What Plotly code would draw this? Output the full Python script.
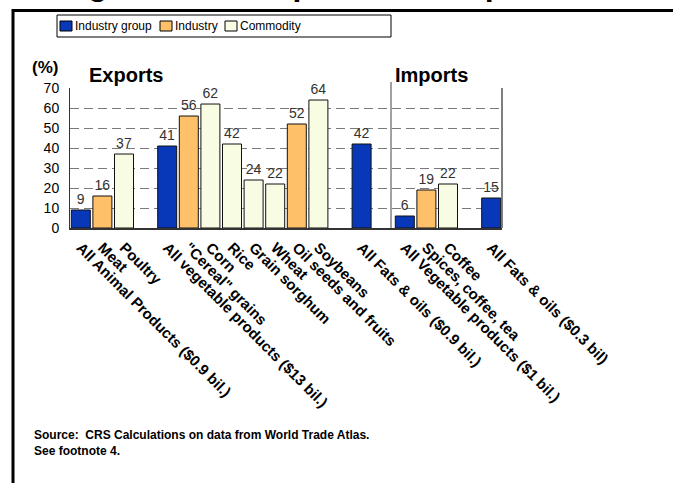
import plotly.graph_objects as go

# ---- data ----
categories = [
    "All Animal Products ($0.9 bil.)", "Meat", "Poultry", "",
    "All vegetable products ($13 bil.)", "\"Cereal\" grains", "Corn", "Rice",
    "Grain sorghum", "Wheat", "Oil seeds and fruits", "Soybeans", "",
    "All Fats & oils ($0.9 bil.)", "",
    "All Vegetable products ($1 bil.)", "Spices, coffee, tea", "Coffee", "",
    "All Fats & oils ($0.3 bil)",
]
group_cats = ["All Animal Products ($0.9 bil.)", "All vegetable products ($13 bil.)",
              "All Fats & oils ($0.9 bil.)", "All Vegetable products ($1 bil.)",
              "All Fats & oils ($0.3 bil)"]
group_vals = [9, 41, 42, 6, 15]
industry_cats = ["Meat", "\"Cereal\" grains", "Oil seeds and fruits", "Spices, coffee, tea"]
industry_vals = [16, 56, 52, 19]
commodity_cats = ["Poultry", "Corn", "Rice", "Grain sorghum", "Wheat", "Soybeans", "Coffee"]
commodity_vals = [37, 62, 42, 24, 22, 64, 22]
y_ticks = [0, 10, 20, 30, 40, 50, 60, 70]

FONT = "Liberation Sans, Arial, sans-serif"
W, H = 673, 483
L, R, T, B = 70, 171, 88, 255
PW, PH = W - L - R, H - T - B


def px(x):
    return (x - L) / PW


def py(y):
    return (H - B - y) / PH


def idx(names):
    return [categories.index(n) for n in names]


fig = go.Figure()
series = [
    ("Industry group", group_cats, group_vals, "#0838B8"),
    ("Industry", industry_cats, industry_vals, "#FFC06A"),
    ("Commodity", commodity_cats, commodity_vals, "#F8FCE2"),
]
for name, cats, vals, col in series:
    fig.add_trace(go.Bar(
        name=name, x=idx(cats), y=vals, width=0.88,
        marker=dict(color=col, line=dict(color="#111111", width=1)),
        text=[str(v) for v in vals], textposition="outside",
        textfont=dict(family=FONT, size=14, color="#333333"),
        cliponaxis=False, showlegend=False,
    ))

fig.update_layout(
    width=W, height=H,
    margin=dict(l=L, r=R, t=T, b=B, pad=0),
    paper_bgcolor="white", plot_bgcolor="white",
    barmode="overlay",
    font=dict(family=FONT, size=12, color="black"),
    showlegend=False,
    xaxis=dict(
        range=[-0.5, len(categories) - 0.5],
        tickmode="array", tickvals=list(range(len(categories))), ticktext=categories,
        tickangle=45, tickfont=dict(family=FONT, size=15, color="black", weight="bold"),
        showgrid=False, zeroline=False,
        showline=True, linecolor="#333333", linewidth=2,
        ticks="outside", ticklen=3, tickcolor="rgba(0,0,0,0)",
    ),
    yaxis=dict(
        range=[0, 70.01], tickmode="array", tickvals=y_ticks,
        tickfont=dict(family=FONT, size=14, color="black"),
        showgrid=True, gridcolor="#7a7a7a", griddash="9px,5px", gridwidth=1,
        zeroline=False, showline=True, linecolor="#333333", linewidth=1,
        ticks="outside", ticklen=7, tickcolor="rgba(0,0,0,0)",
    ),
)

# right edge of plot
fig.add_shape(type="line", xref="paper", yref="paper", x0=1, x1=1, y0=0, y1=1,
              line=dict(color="#555555", width=1.5))
# separator between exports and imports
fig.add_shape(type="line", xref="paper", yref="paper", x0=px(391), x1=px(391),
              y0=0, y1=py(82), line=dict(color="#444444", width=1))
# frame (top & left)
fig.add_shape(type="line", xref="paper", yref="paper", x0=px(12), x1=px(680),
              y0=py(10.5), y1=py(10.5), line=dict(color="black", width=3))
fig.add_shape(type="line", xref="paper", yref="paper", x0=px(13), x1=px(13),
              y0=py(9), y1=py(490), line=dict(color="black", width=3))

# legend box (drawn from series names and colours)
fig.add_shape(type="rect", xref="paper", yref="paper", x0=px(57), x1=px(391),
              y0=py(37), y1=py(15), line=dict(color="black", width=1), fillcolor="white")
leg_x = [60, 160, 225]
for (name, _, _, col), lx in zip(series, leg_x):
    fig.add_shape(type="rect", xref="paper", yref="paper", x0=px(lx), x1=px(lx + 12),
                  y0=py(31), y1=py(21), line=dict(color="black", width=1), fillcolor=col)
    fig.add_annotation(text=name, xref="paper", yref="paper", x=px(lx + 13), y=py(26),
                       xanchor="left", yanchor="middle", showarrow=False,
                       font=dict(family=FONT, size=12, color="black"))

# texts
fig.add_annotation(text="Agricultural Exports and Imports, 2005", xref="paper", yref="paper",
                   x=px(63), y=py(4), xanchor="left", yanchor="bottom", showarrow=False,
                   font=dict(family=FONT, size=32, color="black", weight="bold"))
fig.add_annotation(text="<b>(%)</b>", xref="paper", yref="paper", x=px(30), y=py(67),
                   xanchor="left", yanchor="middle", showarrow=False,
                   font=dict(family=FONT, size=17, color="black"))
fig.add_annotation(text="<b>Exports</b>", xref="paper", yref="paper", x=px(87), y=py(75),
                   xanchor="left", yanchor="middle", showarrow=False,
                   font=dict(family=FONT, size=20, color="black"))
fig.add_annotation(text="<b>Imports</b>", xref="paper", yref="paper", x=px(393), y=py(75),
                   xanchor="left", yanchor="middle", showarrow=False,
                   font=dict(family=FONT, size=20, color="black"))
fig.add_annotation(text="<b>Source:  CRS Calculations on data from World Trade Atlas.<br>See footnote 4.</b>",
                   xref="paper", yref="paper", x=px(32), y=py(426), xanchor="left", yanchor="top",
                   align="left", showarrow=False,
                   font=dict(family=FONT, size=12, color="black"))

fig.write_html("out.html", config={"displayModeBar": False},
               post_script="document.body.style.margin='0px';")
